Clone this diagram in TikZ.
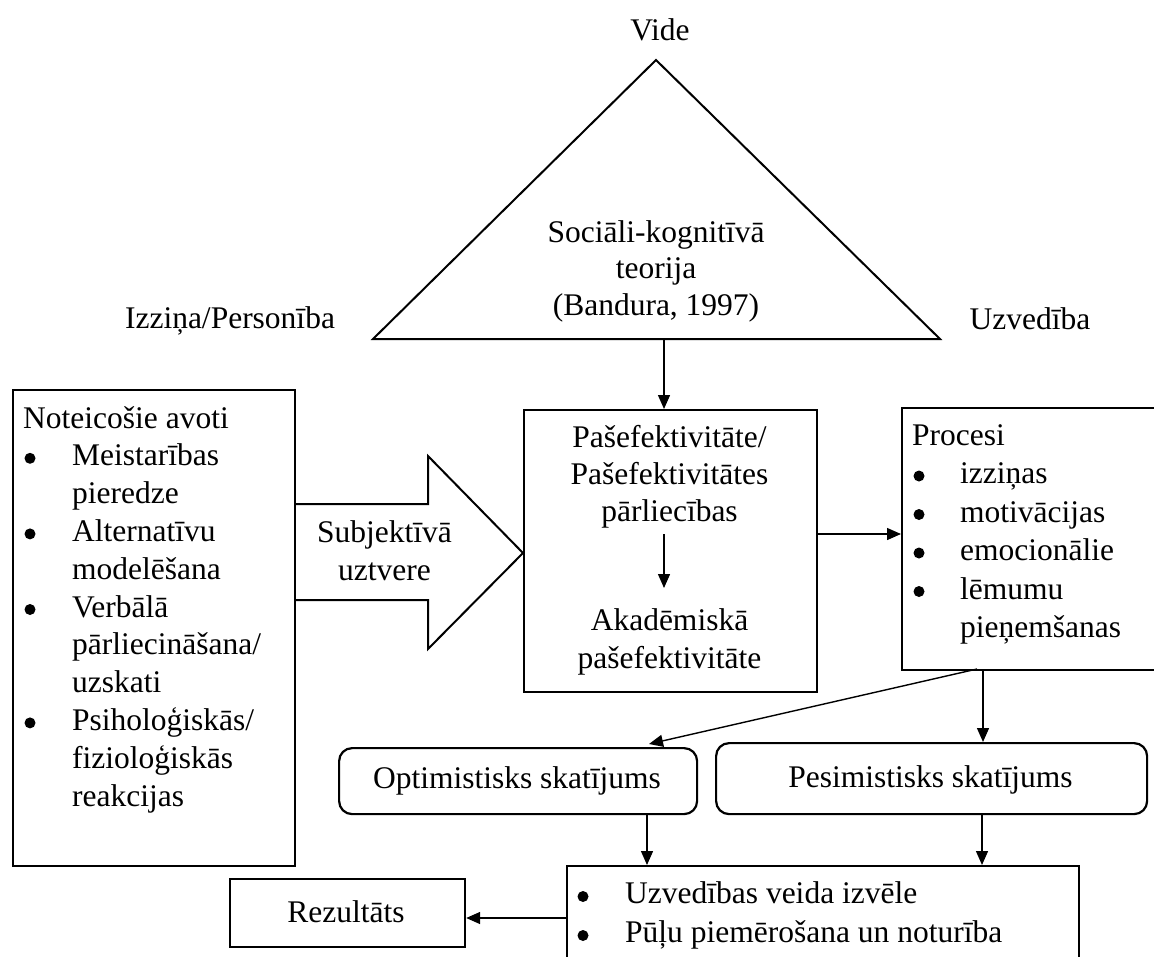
\documentclass[tikz,border=0pt]{standalone}
\usepackage{fontspec}
\setmainfont{Liberation Serif}
\usetikzlibrary{arrows.meta}
\begin{document}
\begin{tikzpicture}[x=1pt,y=-1pt,
  txt/.style={font=\fontsize{31.5}{37.8}\selectfont, inner sep=0pt},
  boxx/.style={draw, line width=2.2pt, inner sep=0pt, anchor=north west},
  rbox/.style={boxx, rounded corners=13pt},
  conn/.style={line width=1.4pt, -{Triangle[length=14pt,width=12pt]}},
  shapeline/.style={line width=2pt, line join=miter},
  bulletdot/.style={fill=black},
]
\useasboundingbox (0,0) rectangle (1154,956);
\clip (0,0) rectangle (1154,956);

% triangle
\coordinate (apex) at (656,60);
\coordinate (tr) at (940,339);
\coordinate (tl) at (373,339);
\draw[shapeline] (apex) -- (tr) -- (tl) -- cycle;
\node[txt, anchor=base] (vide) at (660,40) {Vide};
\node[txt, anchor=base] (izz) at (230,328) {Izziņa/Personība};
\node[txt, anchor=base] (uzv) at (1030,329) {Uzvedība};
\node[txt, anchor=base, font=\fontsize{31.5}{36.5}\selectfont] (theory) at (656,242)
  {\begin{tabular}[t]{@{}c@{}}Sociāli-kognitīvā\\ teorija\\ (Bandura, 1997)\end{tabular}};

% boxes
\node[boxx, minimum width=282pt, minimum height=476pt] (src) at (12,389) {};
\node[boxx, minimum width=293pt, minimum height=282pt] (cb) at (523,409) {};
\node[boxx, minimum width=270pt, minimum height=262pt] (pr) at (901,407) {};
\node[rbox, minimum width=358pt, minimum height=66pt] (opt) at (338,747) {};
\node[rbox, minimum width=431pt, minimum height=71pt] (pes) at (715,742) {};
\node[boxx, minimum width=512pt, minimum height=130pt] (res) at (566,865) {};
\node[boxx, minimum width=235pt, minimum height=68pt] (rez) at (229,878) {};

% texts in boxes
\node[txt, anchor=base west] (srct) at (23,428)
  {\begin{tabular}[t]{@{}l@{}}Noteicošie avoti\\
  \hspace*{49pt}Meistarības\\ \hspace*{49pt}pieredze\\
  \hspace*{49pt}Alternatīvu\\ \hspace*{49pt}modelēšana\\
  \hspace*{49pt}Verbālā\\ \hspace*{49pt}pārliecināšana/\\ \hspace*{49pt}uzskati\\
  \hspace*{49pt}Psiholoģiskās/\\ \hspace*{49pt}fizioloģiskās\\ \hspace*{49pt}reakcijas\end{tabular}};
\foreach \by in {465.8,541.4,617,730.4} \fill[bulletdot] (30,\by-7.5) circle (5.5pt);

\node[txt, anchor=base, font=\fontsize{31.5}{37.3}\selectfont] (cbt1) at (669.5,447)
  {\begin{tabular}[t]{@{}c@{}}Pašefektivitāte/\\ Pašefektivitātes\\ pārliecības\end{tabular}};
\node[txt, anchor=base, font=\fontsize{31.5}{38}\selectfont] (cbt2) at (669.5,630)
  {\begin{tabular}[t]{@{}c@{}}Akadēmiskā\\ pašefektivitāte\end{tabular}};

\node[txt, anchor=base west, font=\fontsize{31.5}{38.5}\selectfont] (prt) at (912,445)
  {\begin{tabular}[t]{@{}l@{}}Procesi\\
  \hspace*{48pt}izziņas\\ \hspace*{48pt}motivācijas\\ \hspace*{48pt}emocionālie\\
  \hspace*{48pt}lēmumu\\ \hspace*{48pt}pieņemšanas\end{tabular}};
\foreach \by in {483.5,522,560.5,599} \fill[bulletdot] (919,\by-7.5) circle (5.5pt);

\node[txt, anchor=base] (optt) at (517,788) {Optimistisks skatījums};
\node[txt, anchor=base] (pest) at (930.5,787) {Pesimistisks skatījums};

\node[txt, anchor=base west, font=\fontsize{31.5}{39}\selectfont] (rest) at (576.5,903)
  {\begin{tabular}[t]{@{}l@{}}\hspace*{48.5pt}Uzvedības veida izvēle\\
  \hspace*{48.5pt}Pūļu piemērošana un noturība\end{tabular}};
\foreach \by in {903,942} \fill[bulletdot] (583,\by-6.5) circle (5.5pt);

\node[txt, anchor=base] (rezt) at (346,922) {Rezultāts};

% block arrow
\draw[shapeline] (src.east |- 0,504) -- (428,504) -- (428,456) -- (cb.west |- 0,553)
  -- (428,649) -- (428,600) -- (src.east |- 0,600);
\node[txt, anchor=base, font=\fontsize{31.5}{38}\selectfont] (subj) at (384.5,542)
  {\begin{tabular}[t]{@{}c@{}}Subjektīvā\\ uztvere\end{tabular}};

% connectors
\coordinate (tb) at (664,339);
\draw[conn] (tb) -- (cb.north -| tb);
\coordinate (ia) at (664,534);
\coordinate (ib) at (664,588);
\draw[conn] (ia) -- (ib);
\coordinate (hy) at (0,534);
\draw[conn] (cb.east |- hy) -- (pr.west |- hy);
\coordinate (prd) at (977,669);
\coordinate (optin) at (649,744);
\draw[conn] (prd) -- (optin);
\coordinate (pv) at (983,669);
\draw[conn] (pv) -- (pes.north -| pv);
\coordinate (ov) at (647,0);
\draw[conn] (opt.south -| ov) -- (res.north -| ov);
\coordinate (pv2) at (982,0);
\draw[conn] (pes.south -| pv2) -- (res.north -| pv2);
\coordinate (ry) at (0,918);
\draw[conn] (res.west |- ry) -- (rez.east |- ry);
\end{tikzpicture}
\end{document}
